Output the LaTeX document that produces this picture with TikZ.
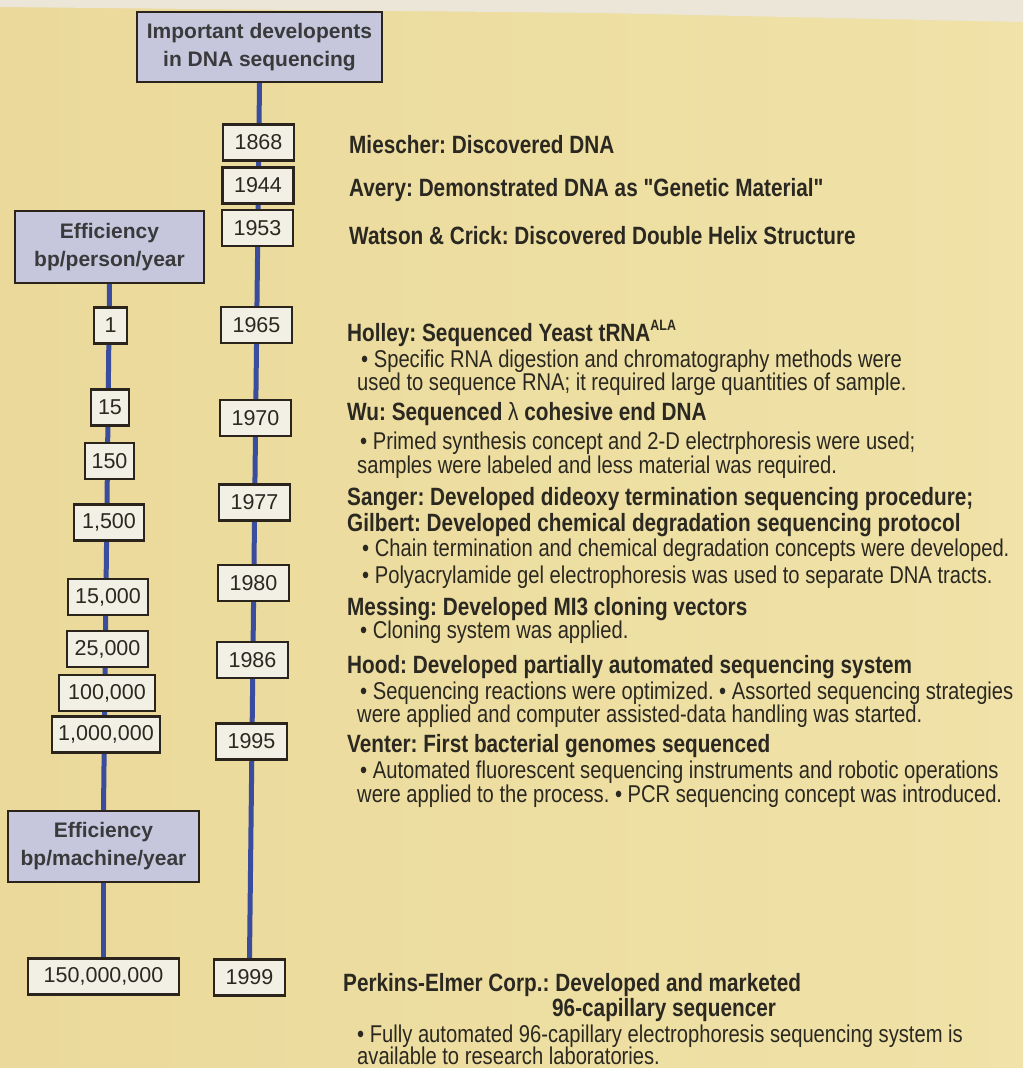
\documentclass[tikz,border=0pt]{standalone}
\usepackage{fontspec}
\setmainfont{Liberation Sans}
\newfontfamily\condfont[FakeStretch=0.83]{Liberation Sans}
\definecolor{paperL}{HTML}{EAD99A}
\definecolor{paperR}{HTML}{F0E2A8}
\definecolor{scanedge}{HTML}{EBE6D8}
\definecolor{lav}{HTML}{C6C7DD}
\definecolor{boxfill}{HTML}{F2EFE4}
\definecolor{boxline}{HTML}{2A241C}
\definecolor{tlblue}{HTML}{3A4C9E}
\definecolor{ink}{HTML}{2A2820}
\definecolor{headink}{HTML}{3A3A3C}
\pgfdeclarelayer{paperlayer}
\pgfdeclarelayer{linelayer}
\pgfsetlayers{paperlayer,linelayer,main}
\begin{document}
\frenchspacing
\begin{tikzpicture}[x=1pt,y=-1pt,
  numbox/.style={draw=boxline, line width=2.2pt, fill=boxfill, inner sep=0pt,
    minimum height=36pt, font=\fontsize{21.5}{24}\selectfont, text=ink},
  headbox/.style={draw=boxline, line width=2.4pt, fill=lav, inner sep=0pt,
    align=center, font=\bfseries\fontsize{21}{28}\selectfont, text=headink},
  tline/.style={line width=5pt, draw=tlblue},
  hd/.style={anchor=base west, inner sep=0pt,
    font=\condfont\bfseries\fontsize{25}{28}\selectfont, text=ink},
  bd/.style={anchor=base west, inner sep=0pt,
    font=\condfont\fontsize{24.3}{27}\selectfont, text=ink}]
\useasboundingbox (0,0) rectangle (1023,1068);

% paper
\begin{pgfonlayer}{paperlayer}
  \shade[left color=paperL, right color=paperR] (0,0) rectangle (1023,1068);
  \fill[scanedge] (0,0) -- (1023,0) -- (1023,22) -- (600,13) -- (0,7) -- cycle;
\end{pgfonlayer}

% header boxes
\node[headbox, minimum width=245pt, minimum height=70pt] (title) at (259.5,47)
  {Important developents\\in DNA sequencing};
\node[headbox, minimum width=189pt, minimum height=72pt] (pers) at (109.5,247)
  {Efficiency\\bp/person/year};
\node[headbox, minimum width=191pt, minimum height=71pt] (mach) at (103.5,846.5)
  {Efficiency\\bp/machine/year};

% years
\node[numbox, minimum width=71pt] (y1868) at (258.5,142.5) {1868};
\node[numbox, minimum width=71pt] (y1944) at (258,185.5) {1944};
\node[numbox, minimum width=71pt] (y1953) at (257.5,228) {1953};
\node[numbox, minimum width=71pt] (y1965) at (256.5,325) {1965};
\node[numbox, minimum width=71pt] (y1970) at (255.5,418) {1970};
\node[numbox, minimum width=71pt] (y1977) at (254.5,502.5) {1977};
\node[numbox, minimum width=71pt] (y1980) at (253.5,583) {1980};
\node[numbox, minimum width=71pt] (y1986) at (252.5,660) {1986};
\node[numbox, minimum width=71pt] (y1995) at (251.5,741.5) {1995};
\node[numbox, minimum width=71pt] (y1999) at (249.5,977.5) {1999};

% efficiency values
\node[numbox, minimum width=33pt] (e1) at (110.5,325.5) {1};
\node[numbox, minimum width=38pt] (e15) at (110,407.5) {15};
\node[numbox, minimum width=49pt] (e150) at (109.5,461) {150};
\node[numbox, minimum width=70pt] (e1500) at (109,522.5) {1,500};
\node[numbox, minimum width=80pt] (e15k) at (108,597) {15,000};
\node[numbox, minimum width=81pt] (e25k) at (107.5,649) {25,000};
\node[numbox, minimum width=96pt] (e100k) at (107,693) {100,000};
\node[numbox, minimum width=108pt] (e1M) at (106,734.5) {1,000,000};
\node[numbox, minimum width=151pt] (e150M) at (103.5,976.5) {150,000,000};

% timelines
\begin{pgfonlayer}{linelayer}
  \draw[tline] (title.south) -- (y1999.north);
  \draw[tline] (pers.south) -- (mach.north);
  \draw[tline] (mach.south) -- (e150M.north);
\end{pgfonlayer}

% events
\node[hd] (t01) at (349,153) {Miescher: Discovered DNA};
\node[hd] (t02) at (349,196) {Avery: Demonstrated DNA as "Genetic Material"};
\node[hd] (t03) at (349,244) {Watson \& Crick: Discovered Double Helix Structure};
\node[hd] (t04) at (347,341) {Holley: Sequenced Yeast tRNA\raisebox{0.42em}{\fontsize{15}{15}\selectfont ALA}};
\node[bd] (t05) at (361,367) {• Specific RNA digestion and chromatography methods were};
\node[bd] (t06) at (357,390) {used to sequence RNA; it required large quantities of sample.};
\node[hd] (t07) at (347,420) {Wu: Sequenced {\mdseries λ} cohesive end DNA};
\node[bd] (t08) at (360,449) {• Primed synthesis concept and 2-D electrphoresis were used;};
\node[bd] (t09) at (357,473) {samples were labeled and less material was required.};
\node[hd] (t10) at (347,505) {Sanger: Developed dideoxy termination sequencing procedure;};
\node[hd] (t11) at (347,531) {Gilbert: Developed chemical degradation sequencing protocol};
\node[bd] (t12) at (362,556) {• Chain termination and chemical degradation concepts were developed.};
\node[bd] (t13) at (362,583) {• Polyacrylamide gel electrophoresis was used to separate DNA tracts.};
\node[hd] (t14) at (347,615) {Messing: Developed MI3 cloning vectors};
\node[bd] (t15) at (360,638) {• Cloning system was applied.};
\node[hd] (t16) at (347,673) {Hood: Developed partially automated sequencing system};
\node[bd] (t17) at (360,699) {• Sequencing reactions were optimized. • Assorted sequencing strategies};
\node[bd] (t18) at (357,722) {were applied and computer assisted-data handling was started.};
\node[hd] (t19) at (347,752) {Venter: First bacterial genomes sequenced};
\node[bd] (t20) at (360,778) {• Automated fluorescent sequencing instruments and robotic operations};
\node[bd] (t21) at (357,802) {were applied to the process. • PCR sequencing concept was introduced.};
\node[hd] (t22) at (343,991) {Perkins-Elmer Corp.: Developed and marketed};
\node[hd] (t23) at (552,1016) {96-capillary sequencer};
\node[bd] (t24) at (357,1042) {• Fully automated 96-capillary electrophoresis sequencing system is};
\node[bd] (t25) at (357,1064) {available to research laboratories.};
\end{tikzpicture}
\end{document}
